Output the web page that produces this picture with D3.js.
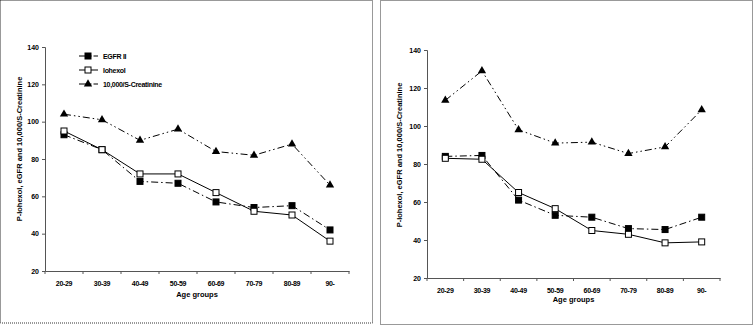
<!DOCTYPE html>
<html><head><meta charset="utf-8">
<script src="https://cdn.jsdelivr.net/npm/d3@7"></script>
<style>
body{margin:0;background:#fff;}
svg{display:block;font-family:"Liberation Sans",Arial,sans-serif;font-weight:bold;}
</style></head>
<body><svg id="c" width="754" height="327"></svg>
<script>
const categories = ["20-29","30-39","40-49","50-59","60-69","70-79","80-89","90-"];
const yTicks = [20,40,60,80,100,120,140];
const seriesNames = ["EGFR II","Iohexol","10,000/S-Creatinine"];
const leftEgfr = [93,85,68,67,57,54,55,42];
const leftIohexol = [95,85,72,72,62,52,50,36];
const leftCreat = [104,101,90,96,84,82,88,66];
const rightEgfr = [84,84.5,61,53,52,46,45.5,52];
const rightIohexol = [83,82.5,65,56.5,45,43,38.5,39];
const rightCreat = [113.5,129,98,91,91.5,85.5,89,108.5];
const yTitle = "P-Iohexol, eGFR and 10,000/S-Creatinine";
const xTitle = "Age groups";

const svg = d3.select("#c");
const styles = [
  {dash:"7,3,1.5,3", marker:"filled"},
  {dash:null, marker:"open"},
  {dash:"7,3,1.5,3,1.5,3", marker:"tri"}
];

function panel(cfg){
  const g = svg.append("g");
  // dotted frame
  g.append("rect").attr("x",cfg.frame[0]).attr("y",cfg.frame[1])
    .attr("width",cfg.frame[2]).attr("height",cfg.frame[3])
    .attr("fill","none").attr("stroke","#333").attr("stroke-width",1)
    .attr("stroke-dasharray","1,1");
  const x = d3.scaleBand().domain(categories).range([cfg.x0,cfg.x1]);
  const y = d3.scaleLinear().domain([20,140]).range([cfg.y0,cfg.y1]);
  // y axis
  const ya = g.append("g").attr("transform",`translate(${cfg.x0},0)`)
    .call(d3.axisLeft(y).tickValues(yTicks).tickSize(3).tickPadding(3));
  ya.selectAll("text").attr("font-size",7).attr("font-weight","bold").attr("fill","#000")
    .attr("font-family","Liberation Sans, Arial, sans-serif");
  ya.selectAll("line,path").attr("stroke","#555");
  // x axis
  const xa = g.append("g").attr("transform",`translate(0,${cfg.y0})`)
    .call(d3.axisBottom(x).tickSize(0).tickPadding(10));
  xa.selectAll("text").attr("font-size",7).attr("font-weight","bold").attr("fill","#000")
    .attr("font-family","Liberation Sans, Arial, sans-serif").attr("letter-spacing","-0.3");
  xa.selectAll("path").attr("stroke","#555");
  // boundary ticks
  const bounds = categories.map(c=>x(c)).concat([cfg.x1]);
  g.selectAll(".bt").data(bounds).enter().append("line")
    .attr("x1",d=>d).attr("x2",d=>d).attr("y1",cfg.y0).attr("y2",cfg.y0+3)
    .attr("stroke","#555");
  // titles
  g.append("text").attr("x",(cfg.x0+cfg.x1)/2).attr("y",cfg.xTitleY)
    .attr("text-anchor","middle").attr("font-size",7.5).text(xTitle);
  g.append("text").attr("transform",`translate(${cfg.yTitleX},${cfg.yTitleY}) rotate(-90)`)
    .attr("text-anchor","middle").attr("font-size",7.5).text(yTitle);
  // series
  const cx = c => x(c)+x.bandwidth()/2;
  const line = d3.line().x((d,i)=>cx(categories[i])).y(d=>y(d));
  cfg.data.forEach((vals,k)=>{
    const st = styles[k];
    g.append("path").datum(vals).attr("d",line).attr("fill","none")
      .attr("stroke","#000").attr("stroke-width",1)
      .attr("stroke-dasharray",st.dash);
  });
  cfg.data.forEach((vals,k)=>{
    const st = styles[k];
    vals.forEach((v,i)=>drawMarker(g, st.marker, cx(categories[i]), y(v)));
  });
  return g;
}

function drawMarker(g,type,px,py){
  if(type==="tri"){
    g.append("path").attr("d",d3.symbol(d3.symbolTriangle,30)())
      .attr("transform",`translate(${px},${py})`).attr("fill","#000");
  } else {
    g.append("rect").attr("x",px-3).attr("y",py-3).attr("width",6).attr("height",6)
      .attr("fill",type==="filled"?"#000":"#fff").attr("stroke","#000").attr("stroke-width",1);
  }
}

const L = panel({frame:[0.5,0.5,372,322.5], x0:45, x1:349, y0:271, y1:47,
  xTitleY:297, yTitleX:22, yTitleY:149, data:[leftEgfr,leftIohexol,leftCreat]});
const R = panel({frame:[380.5,0.5,372,324], x0:427, x1:720, y0:278, y1:50,
  xTitleY:302, yTitleX:402, yTitleY:155, data:[rightEgfr,rightIohexol,rightCreat]});

// legend (left panel)
const lg = L.append("g");
seriesNames.forEach((name,k)=>{
  const yy = 56 + k*14;
  const st = styles[k];
  lg.append("line").attr("x1",79).attr("x2",98).attr("y1",yy).attr("y2",yy)
    .attr("stroke","#000").attr("stroke-dasharray",st.dash? "9,2,1.5,2" : null);
  drawMarker(lg, st.marker, 88, yy);
  lg.append("text").attr("x",103).attr("y",yy+2.5).attr("font-size",7).attr("letter-spacing","-0.3").text(name);
});
</script></body></html>
